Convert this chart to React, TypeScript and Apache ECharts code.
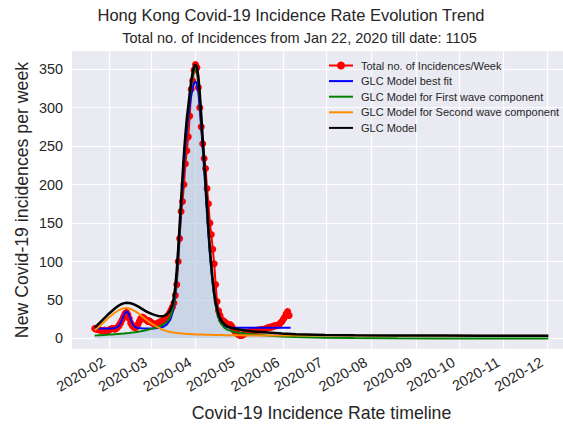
import React, { useEffect, useRef } from 'react';
import * as echarts from 'echarts';

// Daily values of the weekly incidence, starting 2020-01-22
const incidenceStart = '2020-01-22';
const weeklyIncidence = [
  13, 12, 12, 11, 11, 10, 10, 11, 10, 10,
  11, 12, 13, 13, 12, 13, 15, 17, 20, 24,
  28, 32, 34, 31, 26, 20, 17, 15, 14, 15,
  18, 22, 26, 28, 27, 25, 24, 22, 23, 21,
  20, 19, 18, 19, 20, 21, 22, 23, 24, 26,
  27, 30, 33, 37, 41, 46, 56, 70, 100, 130,
  165, 178, 200, 227, 244, 262, 289, 324, 335, 349,
  356, 352, 326, 300, 275, 253, 234, 221, 195, 175,
  150, 135, 116, 97, 70, 48, 36, 30, 25, 23,
  22, 20, 19, 18, 18, 16, 13, 10, 8, 6,
  5, 4, 4, 5, 6, 7, 8, 8, 9, 9,
  10, 10, 10, 11, 11, 11, 12, 11, 12, 13,
  14, 14, 15, 15, 16, 16, 17, 17, 18, 20,
  22, 25, 28, 32, 35, 30,
];

// GLC model best fit (blue)
const fitDates = [
  '2020-01-22', '2020-01-26', '2020-01-30', '2020-02-01', '2020-02-03', '2020-02-05', '2020-02-07',
  '2020-02-08', '2020-02-09', '2020-02-10', '2020-02-11', '2020-02-12', '2020-02-13', '2020-02-14',
  '2020-02-15', '2020-02-16', '2020-02-17', '2020-02-18', '2020-02-19', '2020-02-21', '2020-02-25',
  '2020-03-02', '2020-03-06', '2020-03-08', '2020-03-10', '2020-03-12', '2020-03-14', '2020-03-15',
  '2020-03-16', '2020-03-17', '2020-03-18', '2020-03-19', '2020-03-20', '2020-03-21', '2020-03-22',
  '2020-03-23', '2020-03-24', '2020-03-25', '2020-03-26', '2020-03-27', '2020-03-28', '2020-03-29',
  '2020-03-30', '2020-03-31', '2020-04-01', '2020-04-02', '2020-04-03', '2020-04-04', '2020-04-05',
  '2020-04-06', '2020-04-07', '2020-04-08', '2020-04-09', '2020-04-10', '2020-04-11', '2020-04-12',
  '2020-04-13', '2020-04-14', '2020-04-15', '2020-04-16', '2020-04-17', '2020-04-18', '2020-04-19',
  '2020-04-21', '2020-04-23', '2020-04-26', '2020-05-01', '2020-05-11', '2020-05-21', '2020-05-31',
  '2020-06-06',
];
const fitValues = [
  13, 13, 13, 13, 13, 13.5, 15,
  17, 20, 24.5, 29, 33, 35, 34,
  30, 25, 20.5, 17, 15, 13.5, 13,
  13, 13.5, 14, 15.5, 18, 23, 27,
  33, 42, 56, 77, 104, 135, 166,
  196, 224, 249, 270, 287, 302, 315,
  325, 331, 334, 331, 320, 300, 275,
  247, 220, 191, 162, 134, 109, 88,
  70, 55, 43, 34, 27, 22, 19,
  16, 14.5, 14, 14, 14, 14, 14,
  14,
];

// GLC model components
const modelDates = [
  '2020-01-22', '2020-01-24', '2020-01-26', '2020-01-28', '2020-01-30', '2020-02-01', '2020-02-03',
  '2020-02-05', '2020-02-07', '2020-02-09', '2020-02-11', '2020-02-13', '2020-02-15', '2020-02-17',
  '2020-02-19', '2020-02-21', '2020-02-23', '2020-02-25', '2020-02-27', '2020-02-29', '2020-03-02',
  '2020-03-04', '2020-03-06', '2020-03-08', '2020-03-10', '2020-03-12', '2020-03-14', '2020-03-15',
  '2020-03-16', '2020-03-17', '2020-03-18', '2020-03-19', '2020-03-20', '2020-03-21', '2020-03-22',
  '2020-03-23', '2020-03-24', '2020-03-25', '2020-03-26', '2020-03-27', '2020-03-28', '2020-03-29',
  '2020-03-30', '2020-03-31', '2020-04-01', '2020-04-02', '2020-04-03', '2020-04-04', '2020-04-05',
  '2020-04-06', '2020-04-07', '2020-04-08', '2020-04-09', '2020-04-10', '2020-04-11', '2020-04-12',
  '2020-04-13', '2020-04-14', '2020-04-15', '2020-04-16', '2020-04-17', '2020-04-18', '2020-04-19',
  '2020-04-21', '2020-04-23', '2020-04-26', '2020-05-01', '2020-05-06', '2020-05-11', '2020-05-21',
  '2020-05-31', '2020-06-10', '2020-06-30', '2020-07-20', '2020-08-19', '2020-09-18', '2020-10-18',
  '2020-11-17', '2020-12-02',
];
const firstWave = [
  4, 4.1, 4.3, 4.5, 4.7, 5, 5.2,
  5.5, 5.8, 6.1, 6.4, 6.8, 7.2, 7.7,
  8.2, 8.8, 9.4, 10.1, 10.9, 11.8, 12.8,
  13.8, 15, 16.5, 18.5, 21.5, 26.5, 30.5,
  36.5, 46, 60, 82, 110, 141, 173,
  204, 234, 259, 280, 296, 313, 328,
  340, 348, 351, 347, 335, 313, 285,
  255, 228, 198, 168, 138, 112, 90,
  71, 55, 43, 34, 27, 22, 18.5,
  14, 11.5, 9.5, 7.5, 6.3, 5.3, 3.8,
  2.6, 1.8, 0.9, 0.5, 0.2, 0.1, 0.05,
  0, 0,
];
const secondWave = [
  10.5, 13.5, 17, 20.5, 24, 27.5, 30.5,
  33.5, 36, 38, 39.2, 39.5, 39, 37.5,
  35.5, 33, 30, 27, 24, 21.3, 18.8,
  16.5, 14.3, 12.3, 10.8, 9.5, 8.6, 8.2,
  7.9, 7.6, 7.3, 7.1, 6.9, 6.7, 6.5,
  6.3, 6.2, 6.0, 5.9, 5.8, 5.7, 5.6,
  5.5, 5.4, 5.3, 5.2, 5.2, 5.1, 5.0,
  5.0, 4.9, 4.9, 4.8, 4.8, 4.7, 4.7,
  4.6, 4.6, 4.5, 4.5, 4.5, 4.4, 4.4,
  4.3, 4.3, 4.2, 4.1, 4.0, 3.9, 3.9,
  3.8, 3.8, 3.7, 3.7, 3.6, 3.6, 3.5,
  3.5, 3.5,
];
const glcModel = [
  14.5, 17.6, 21.3, 25, 28.7, 32.5, 35.7,
  39, 41.8, 44.1, 45.6, 46.3, 46.2, 45.2,
  43.7, 41.8, 39.4, 37.1, 34.9, 33.1, 31.6,
  30.3, 29.3, 28.8, 29.3, 31, 35.1, 38.7,
  44.4, 53.6, 67.3, 89.1, 116.9, 147.7, 179.5,
  210.3, 240.2, 265, 285.9, 301.8, 318.7, 333.6,
  345.5, 353.4, 356.3, 352.2, 340.2, 318.1, 290,
  260, 232.9, 202.9, 172.8, 142.8, 116.7, 94.7,
  75.6, 59.6, 47.5, 38.5, 31.5, 26.4, 22.9,
  18.3, 15.8, 13.7, 11.6, 10.3, 9.2, 7.7,
  6.4, 5.6, 4.6, 4.2, 3.8, 3.7, 3.55,
  3.5, 3.5,
];

const monthTicks = [
  '2020-02-01', '2020-03-01', '2020-04-01', '2020-05-01', '2020-06-01', '2020-07-01',
  '2020-08-01', '2020-09-01', '2020-10-01', '2020-11-01', '2020-12-01',
];
const monthLabels = [
  '2020-02', '2020-03', '2020-04', '2020-05', '2020-06', '2020-07',
  '2020-08', '2020-09', '2020-10', '2020-11', '2020-12',
];
const yTicks = [0, 50, 100, 150, 200, 250, 300, 350];

const DAY = 86400000;
const toTs = (s: string) => Date.parse(s + 'T00:00:00Z');
const FONT = 'Liberation Sans, Arial, sans-serif';
const TXT = '#262626';

export default function App() {
  const ref = useRef<HTMLDivElement>(null);

  useEffect(() => {
    if (!ref.current) return;
    const chart = echarts.init(ref.current, undefined, { renderer: 'svg' });
    const startTs = toTs(incidenceStart);
    const redData = weeklyIncidence.map((v, i) => [startTs + i * DAY, v]);
    const fitData = fitDates.map((d, i) => [toTs(d), fitValues[i]]);
    const greenData = modelDates.map((d, i) => [toTs(d), firstWave[i]]);
    const orangeData = modelDates.map((d, i) => [toTs(d), secondWave[i]]);
    const blackData = modelDates.map((d, i) => [toTs(d), glcModel[i]]);
    const tickTs = monthTicks.map(toTs);

    const names = [
      'Total no. of Incidences/Week',
      'GLC Model best fit',
      'GLC Model for First wave component',
      'GLC Model for Second wave component',
      'GLC Model',
    ];

    chart.setOption({
      animation: false,
      textStyle: { fontFamily: FONT, color: TXT },
      grid: {
        left: 72,
        top: 51,
        right: 0,
        bottom: 74,
        show: true,
        backgroundColor: '#EAEAF2',
        borderWidth: 0,
        containLabel: false,
      },
      graphic: [
        {
          type: 'text',
          x: 291,
          y: 15,
          style: {
            text: 'Hong Kong Covid-19 Incidence Rate Evolution Trend',
            fill: TXT,
            font: `16.5px ${FONT}`,
            align: 'center',
            verticalAlign: 'middle',
          },
        },
        {
          type: 'text',
          x: 299.5,
          y: 38,
          style: {
            text: 'Total no. of Incidences from Jan 22, 2020 till date: 1105',
            fill: TXT,
            font: `14.5px ${FONT}`,
            align: 'center',
            verticalAlign: 'middle',
          },
        },
      ],
      legend: {
        data: names.map((n, i) =>
          i === 0 ? { name: n } : { name: n, itemStyle: { opacity: 0 } }
        ),
        orient: 'vertical',
        left: 323,
        top: 55,
        itemWidth: 24,
        itemHeight: 10,
        itemGap: 4.6,
        textStyle: { fontSize: 11, color: TXT, fontFamily: FONT, padding: [0, 0, 0, 3] },
      },
      xAxis: {
        type: 'value',
        min: toTs('2020-01-06') + 6 * 3600000,
        max: toTs('2020-12-17') + 18 * 3600000,
        name: 'Covid-19 Incidence Rate timeline',
        nameLocation: 'middle',
        nameGap: 55,
        nameMoveOverlap: false,
        nameTextStyle: { fontSize: 17.7, color: TXT, fontFamily: FONT },
        axisLine: { show: false },
        axisTick: { show: false, customValues: tickTs },
        axisLabel: {
          customValues: tickTs,
          rotate: 30,
          margin: 9,
          padding: [0, 6, 0, 0],
          fontSize: 14.5,
          color: TXT,
          fontFamily: FONT,
          formatter: (v: number) => {
            const idx = tickTs.indexOf(v);
            return idx >= 0 ? monthLabels[idx] : '';
          },
        },
        splitLine: { show: true, lineStyle: { color: '#ffffff', width: 1.2 } },
      },
      yAxis: {
        type: 'value',
        min: -13.7,
        max: 373.6,
        name: 'New Covid-19 incidences per week',
        nameLocation: 'middle',
        nameGap: 41,
        nameMoveOverlap: false,
        nameRotate: 90,
        nameTextStyle: { fontSize: 17.7, color: TXT, fontFamily: FONT },
        axisLine: { show: false },
        axisTick: { show: false, customValues: yTicks },
        axisLabel: {
          customValues: yTicks,
          margin: 9,
          fontSize: 14.4,
          color: TXT,
          fontFamily: FONT,
        },
        splitLine: { show: true, lineStyle: { color: '#ffffff', width: 1.2 } },
      },
      series: [
        {
          name: 'fill',
          type: 'line',
          data: greenData,
          symbol: 'none',
          silent: true,
          lineStyle: { width: 0 },
          areaStyle: { color: 'rgba(176,196,222,0.8)' },
          z: 1,
        },
        {
          name: names[0],
          type: 'line',
          data: redData,
          symbol: 'circle',
          symbolSize: 7,
          showSymbol: true,
          lineStyle: { color: '#ff0000', width: 2 },
          itemStyle: { color: '#ff0000' },
          z: 2,
        },
        {
          name: names[1],
          type: 'line',
          data: fitData,
          symbol: 'none',
          lineStyle: { color: '#0000ff', width: 2 },
          itemStyle: { color: '#0000ff' },
          z: 3,
        },
        {
          name: names[2],
          type: 'line',
          data: greenData,
          symbol: 'none',
          lineStyle: { color: '#008000', width: 2 },
          itemStyle: { color: '#008000' },
          z: 3,
        },
        {
          name: names[3],
          type: 'line',
          data: orangeData,
          symbol: 'none',
          smooth: 0.2,
          lineStyle: { color: '#ff8c00', width: 2 },
          itemStyle: { color: '#ff8c00' },
          z: 3,
        },
        {
          name: names[4],
          type: 'line',
          data: blackData,
          symbol: 'none',
          lineStyle: { color: '#000000', width: 2.5 },
          itemStyle: { color: '#000000' },
          z: 4,
        },
      ],
    });
    return () => chart.dispose();
  }, []);

  return (
    <div style={{ position: 'absolute', left: 0, top: 0, width: 563, height: 427, overflow: 'hidden', background: '#ffffff' }}>
      <div ref={ref} style={{ width: 571, height: 427 }} />
    </div>
  );
}
